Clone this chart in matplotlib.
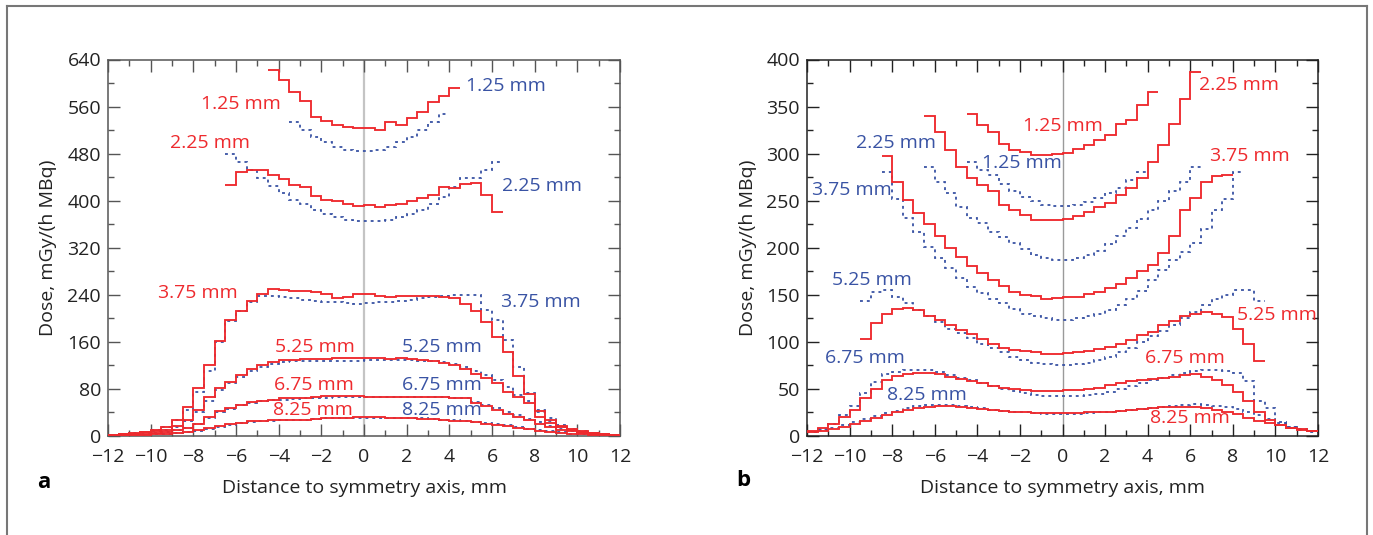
import numpy as np
import matplotlib
matplotlib.use("Agg")
import matplotlib.pyplot as plt
from matplotlib.lines import Line2D
from matplotlib.ticker import MultipleLocator

plt.rcParams['font.family'] = ['Open Sans', 'DejaVu Sans']

RED = '#ee2a2e'
BLUE = '#3953a4'
FS = 14

# ---- panel a: dose profiles (0.5 mm bins), red = solid, blue = dotted ----
a_red_125_x = (-4.5, 4.5)
a_red_125 = [622, 605, 585, 569, 543, 535, 528, 526, 523, 523, 521, 534, 529, 540, 551, 568, 578, 592]
a_blue_125_x = (-3.5, 4.0)
a_blue_125 = [533, 520, 508, 499, 491, 487, 484, 484, 487, 492, 499, 508, 520, 534, 548]
a_red_225_x = (-6.5, 6.5)
a_red_225 = [427, 448, 453, 453, 444, 437, 427, 424, 408, 401, 400, 394, 391,
             393, 389, 393, 394, 400, 404, 410, 424, 421, 428, 430, 410, 380]
a_blue_225_x = (-6.5, 6.5)
a_blue_225 = [480, 465, 452, 438, 425, 413, 402, 394, 384, 377, 373, 368, 365,
              365, 365, 367, 373, 377, 384, 394, 407, 424, 438, 438, 452, 465]
a_full_x = (-12.0, 12.0)
a_red_375 = [2, 3, 5, 7, 10, 15, 28, 50, 81, 121, 161, 197, 213, 230, 241, 250,
             248, 246, 246, 244, 241, 234, 237, 241, 241, 238, 237, 238, 238, 238, 238, 237,
             234, 225, 212, 194, 168, 143, 102, 72, 43, 27, 17, 12, 8, 5, 3, 2]
a_blue_375 = [2, 3, 5, 7, 10, 15, 27, 45, 75, 110, 160, 195, 212, 228, 238, 238,
              236, 234, 232, 229, 228, 227, 226, 225, 226, 227, 228, 229, 231, 234, 236, 238,
              240, 240, 239, 214, 197, 163, 118, 73, 45, 30, 18, 12, 8, 5, 3, 2]
a_red_525 = [2, 3, 4, 6, 8, 11, 17, 27, 45, 67, 81, 92, 104, 114, 120, 125,
             129, 130, 131, 131, 131, 132, 133, 132, 132, 132, 131, 132, 131, 129, 127, 124,
             121, 114, 106, 98, 90, 75, 66, 56, 33, 22, 15, 10, 7, 5, 3, 2]
a_blue_525 = [2, 3, 4, 6, 8, 11, 16, 25, 40, 60, 78, 90, 100, 110, 117, 122,
              126, 127, 128, 128, 128, 128, 128, 128, 129, 129, 129, 129, 129, 128, 127, 125,
              122, 117, 111, 103, 95, 84, 70, 60, 40, 25, 16, 11, 7, 5, 3, 2]
a_red_675 = [1, 2, 3, 4, 5, 7, 10, 14, 21, 33, 42, 47, 53, 57, 60, 61,
             64, 64, 64, 67, 68, 68, 68, 68, 67, 67, 67, 67, 67, 67, 66, 66,
             64, 64, 56, 51, 44, 38, 33, 27, 21, 16, 11, 8, 5, 4, 3, 2]
a_blue_675 = [1, 2, 3, 4, 5, 7, 10, 14, 20, 31, 40, 46, 52, 56, 59, 61,
              62, 63, 64, 65, 65, 66, 66, 66, 66, 66, 66, 66, 66, 66, 66, 66,
              65, 64, 58, 53, 47, 40, 35, 29, 23, 17, 12, 8, 6, 4, 3, 2]
a_red_825 = [1, 1, 2, 2, 3, 4, 5, 7, 10, 13, 17, 20, 22, 25, 26, 27,
             28, 28, 28, 29, 30, 31, 31, 32, 32, 32, 31, 31, 30, 29, 29, 28,
             26, 25, 23, 21, 19, 17, 14, 12, 9, 7, 5, 4, 3, 2, 2, 1]
a_blue_825 = [1, 1, 2, 2, 3, 4, 5, 7, 9, 12, 16, 19, 22, 24, 25, 26,
              27, 27, 28, 29, 30, 30, 31, 31, 31, 31, 31, 31, 30, 30, 29, 28,
              27, 26, 24, 22, 20, 18, 15, 12, 10, 8, 6, 4, 3, 2, 2, 1]

# ---- panel b ----
b_red_125_x = (-4.5, 4.5)
b_red_125 = [342, 330, 323, 310, 304, 302, 299, 299, 300, 301, 305, 309, 315, 320, 331, 336, 352, 366]
b_blue_125_x = (-4.5, 4.0)
b_blue_125 = [291, 283, 277, 268, 260, 254, 250, 245, 244, 244, 245, 249, 253, 258, 264, 272, 281]
b_red_225_x = (-6.5, 6.5)
b_red_225 = [340, 323, 304, 286, 274, 267, 260, 245, 240, 235, 230, 230, 230,
             231, 234, 238, 243, 248, 256, 263, 274, 291, 309, 332, 358, 387]
b_blue_225_x = (-6.5, 6.5)
b_blue_225 = [286, 270, 258, 243, 232, 226, 217, 211, 205, 199, 192, 189, 187,
              187, 189, 192, 197, 204, 212, 221, 231, 240, 250, 260, 270, 286]
b_red_375_x = (-8.5, 8.0)
b_red_375 = [298, 270, 251, 237, 225, 212, 200, 190, 181, 173, 166, 159, 153, 150, 149, 146, 147,
             148, 148, 151, 153, 157, 161, 168, 175, 182, 194, 213, 240, 253, 270, 276, 277]
b_blue_375_x = (-8.5, 8.5)
b_blue_375 = [281, 252, 232, 217, 201, 189, 178, 168, 158, 152, 146, 141, 135, 130, 127, 125, 123,
              123, 125, 127, 130, 134, 139, 146, 154, 166, 176, 187, 196, 205, 220, 240, 252, 281]
b_red_525_x = (-9.5, 9.5)
b_red_525 = [103, 120, 130, 135, 136, 134, 128, 123, 118, 113, 108, 103, 98, 94, 91, 90, 89, 87, 87,
             88, 89, 90, 92, 95, 98, 102, 107, 111, 118, 122, 127, 130, 132, 130, 126, 114, 98, 80]
b_blue_525_x = (-9.5, 9.5)
b_blue_525 = [143, 153, 155, 148, 141, 134, 127, 121, 114, 109, 104, 98, 93, 89, 84, 81, 78, 76, 75,
              75, 76, 78, 81, 84, 89, 93, 100, 106, 112, 118, 125, 132, 139, 146, 150, 155, 155, 143]
b_full_x = (-12.0, 12.0)
b_red_675 = [5, 8.5, 13, 20, 28, 40, 50, 59, 64, 65.5, 66.5, 67, 65.5, 63, 61, 58,
             56, 53.5, 51.5, 50, 49, 48, 48, 48, 49, 49, 50, 51.5, 54, 56, 58, 59.5,
             61, 62, 63, 65, 66, 63, 59.5, 54, 47, 37, 26, 17, 12, 8.5, 6.5, 5]
b_blue_675 = [4, 7, 13, 22, 32, 46, 57, 66, 68, 70, 70, 70, 68, 65, 62, 59,
              56, 53, 50, 48, 46, 44, 43, 43, 43, 43, 44, 45, 47, 50, 53, 56,
              59, 62, 65, 67, 69, 70, 70, 69, 67, 58, 37, 30, 15, 10, 6, 4]
b_red_825 = [4, 5, 7, 10, 13, 16, 19, 22, 25, 28, 30, 31, 32, 32, 31, 30,
             29, 28, 27, 26, 25, 24.5, 24, 24, 24, 24.5, 25, 25.5, 26, 27, 28, 29,
             30, 30.5, 31, 31, 31, 30, 28, 26, 23, 19, 16, 14, 12, 9, 7.5, 5]
b_blue_825 = [4, 6, 9, 12, 15, 18, 21, 24, 27, 30, 32, 33, 33, 33, 32, 31,
              30, 28, 27, 26, 25, 24, 23, 23, 23, 23, 24, 25, 26, 27, 28, 29,
              30, 31, 32, 33, 34, 33, 32, 31, 29, 26, 22, 18, 14, 10, 7, 5]

# curve labels: (text, colour, x mm, dose, alignment)
a_labels = [('1.25 mm', RED, -3.9, 564, 'right'), ('1.25 mm', BLUE, 4.8, 595, 'left'),
            ('2.25 mm', RED, -5.35, 498, 'right'), ('2.25 mm', BLUE, 6.45, 425, 'left'),
            ('3.75 mm', RED, -5.9, 243, 'right'), ('3.75 mm', BLUE, 6.4, 227, 'left'),
            ('5.25 mm', RED, -2.3, 152, 'center'), ('5.25 mm', BLUE, 3.65, 152, 'center'),
            ('6.75 mm', RED, -2.35, 87, 'center'), ('6.75 mm', BLUE, 3.65, 87, 'center'),
            ('8.25 mm', RED, -2.4, 45, 'center'), ('8.25 mm', BLUE, 3.65, 45, 'center')]
b_labels = [('2.25 mm', RED, 6.4, 373, 'left'), ('1.25 mm', RED, 0.0, 329, 'center'),
            ('2.25 mm', BLUE, -7.8, 311, 'center'), ('1.25 mm', BLUE, -1.9, 290, 'center'),
            ('3.75 mm', RED, 8.8, 298, 'center'), ('3.75 mm', BLUE, -9.9, 261, 'center'),
            ('5.25 mm', BLUE, -8.95, 166, 'center'), ('5.25 mm', RED, 8.2, 128.5, 'left'),
            ('6.75 mm', BLUE, -9.3, 83, 'center'), ('6.75 mm', RED, 5.75, 82.5, 'center'),
            ('8.25 mm', BLUE, -6.35, 44, 'center'), ('8.25 mm', RED, 6.0, 19, 'center')]

a_curves = [(a_red_125, a_red_125_x, RED), (a_blue_125, a_blue_125_x, BLUE),
            (a_red_225, a_red_225_x, RED), (a_blue_225, a_blue_225_x, BLUE),
            (a_blue_375, a_full_x, BLUE), (a_red_375, a_full_x, RED),
            (a_blue_525, a_full_x, BLUE), (a_red_525, a_full_x, RED),
            (a_blue_675, a_full_x, BLUE), (a_red_675, a_full_x, RED),
            (a_blue_825, a_full_x, BLUE), (a_red_825, a_full_x, RED)]
b_curves = [(b_red_125, b_red_125_x, RED), (b_blue_125, b_blue_125_x, BLUE),
            (b_red_225, b_red_225_x, RED), (b_blue_225, b_blue_225_x, BLUE),
            (b_red_375, b_red_375_x, RED), (b_blue_375, b_blue_375_x, BLUE),
            (b_red_525, b_red_525_x, RED), (b_blue_525, b_blue_525_x, BLUE),
            (b_blue_675, b_full_x, BLUE), (b_red_675, b_full_x, RED),
            (b_blue_825, b_full_x, BLUE), (b_red_825, b_full_x, RED)]

W, H = 1373, 535
fig = plt.figure(figsize=(W / 100, H / 100), dpi=100)
ax1 = fig.add_axes([108 / W, 1 - 436 / H, 512 / W, 376.5 / H])
ax2 = fig.add_axes([807 / W, 1 - 436 / H, 511 / W, 376.5 / H])


def draw(ax, curves, labels, ymax, ymaj, spine_col, zero_col, zero_lw):
    ax.axvline(0, color=zero_col, lw=zero_lw, zorder=0.5)
    for vals, (x0, x1), col in curves:
        edges = np.linspace(x0, x1, len(vals) + 1)
        if col == RED:
            ax.stairs(vals, edges, color=col, lw=1.35, baseline=None, zorder=3)
        else:
            ax.stairs(vals, edges, color=col, lw=1.3, baseline=None, zorder=2,
                      linestyle=(0, (1.6, 2.2)))
    for txt, col, x, y, ha in labels:
        ax.text(x, y, txt, color=col, fontsize=FS, ha=ha, va='center', zorder=4)
    ax.set_xlim(-12, 12)
    ax.set_ylim(0, ymax)
    ax.xaxis.set_major_locator(MultipleLocator(2))
    ax.xaxis.set_minor_locator(MultipleLocator(1))
    ax.yaxis.set_major_locator(MultipleLocator(ymaj))
    ax.yaxis.set_minor_locator(MultipleLocator(ymaj / 2))
    ax.tick_params(which='both', direction='in', top=True, right=True,
                   color=spine_col, width=1, labelsize=FS, labelcolor='#222222')
    ax.tick_params(which='major', length=8.5)
    ax.tick_params(which='minor', length=4.5)
    ax.tick_params(axis='x', pad=9)
    ax.tick_params(axis='y', pad=5)
    for s in ax.spines.values():
        s.set_color(spine_col)
        s.set_linewidth(1.1)
    ax.set_xlabel('Distance to symmetry axis, mm', fontsize=FS, color='#222222')
    ax.set_ylabel('Dose, mGy/(h MBq)', fontsize=FS, color='#222222')
    ax.xaxis.label.set_va('center')
    ax.yaxis.label.set_va('center')
    ax.xaxis.set_label_coords(0.5, -52 / 376.5)


draw(ax1, a_curves, a_labels, 640, 80, '#555555', '#c4c4c4', 1.6)
draw(ax2, b_curves, b_labels, 400, 50, '#222222', '#9a9a9a', 1.0)
ax1.yaxis.set_label_coords(-(108 - 48) / 512, 0.5)
ax2.yaxis.set_label_coords(-(807 - 748) / 511, 0.5)

fig.text(44 / W, 1 - 482 / H, 'a', fontsize=16, fontweight='bold', ha='center', va='center')
fig.text(743 / W, 1 - 480 / H, 'b', fontsize=16, fontweight='bold', ha='center', va='center')

# outer frame (top, left, right)
fx0, fx1, fy = 7 / W, 1367 / W, 1 - 6 / H
for xs, ys in [((fx0, fx1), (fy, fy)), ((fx0, fx0), (0, fy)), ((fx1, fx1), (0, fy))]:
    fig.add_artist(Line2D(xs, ys, transform=fig.transFigure, color='#777777', lw=1.5))

fig.savefig('out.png', dpi=100)
